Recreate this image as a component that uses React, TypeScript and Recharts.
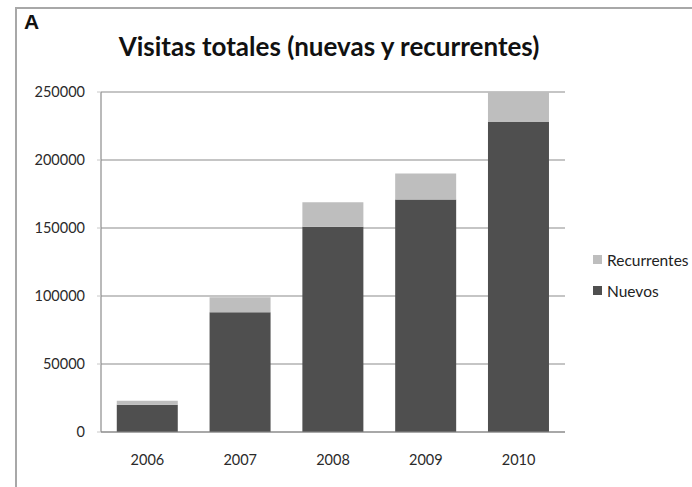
import React from 'react';
import { BarChart, Bar, XAxis, YAxis, CartesianGrid, Legend } from 'recharts';

const years = ['2006', '2007', '2008', '2009', '2010'];
const nuevos = [20000, 88000, 151000, 171000, 228000];
const recurrentes = [3000, 11000, 18000, 19000, 22000];
const yTicks = [0, 50000, 100000, 150000, 200000, 250000];

const data = years.map((year, i) => ({ year, Nuevos: nuevos[i], Recurrentes: recurrentes[i] }));

const DARK = '#4f4f4f';
const LIGHT = '#bebebe';
const GRID = '#8c8c8c';
const FONT = 'Lato, "Open Sans", sans-serif';

const legendItems = [
  { name: 'Recurrentes', color: LIGHT },
  { name: 'Nuevos', color: DARK },
];

const LegendContent = () => (
  <div style={{ fontFamily: FONT, fontSize: 15.5, color: '#222' }}>
    {legendItems.map((it) => (
      <div key={it.name} style={{ display: 'flex', alignItems: 'center', height: 31, whiteSpace: 'nowrap' }}>
        <span style={{ width: 9, height: 9, background: it.color, display: 'inline-block', marginRight: 5 }} />
        <span>{it.name}</span>
      </div>
    ))}
  </div>
);

export default function App() {
  return (
    <div style={{ position: 'relative', width: 692, height: 487, overflow: 'hidden', background: '#fff' }}>
      <style>{`body{margin:0;}`}</style>
      <div
        style={{
          position: 'absolute',
          left: 15,
          top: 7,
          width: 720,
          height: 520,
          border: '2px solid #a8a8a8',
          boxSizing: 'border-box',
        }}
      />
      <div
        style={{
          position: 'absolute',
          left: 24,
          top: 10,
          fontFamily: '"Liberation Sans", Arial, sans-serif',
          fontWeight: 'bold',
          fontSize: 21,
          color: '#111',
        }}
      >
        A
      </div>
      <div
        style={{
          position: 'absolute',
          left: 0,
          width: 658,
          top: 29,
          textAlign: 'center',
          fontFamily: FONT,
          fontWeight: 'bold',
          fontSize: 26,
          lineHeight: '34px',
          color: '#111',
        }}
      >
        Visitas totales (nuevas y recurrentes)
      </div>
      <div style={{ position: 'absolute', left: 0, top: 0 }}>
        <BarChart
          width={692}
          height={487}
          data={data}
          margin={{ top: 92, right: 127, bottom: 25, left: 0 }}
          barCategoryGap="17%"
        >
          <CartesianGrid horizontal vertical={false} stroke={GRID} strokeWidth={1.2} />
          <XAxis
            dataKey="year"
            height={30}
            axisLine={{ stroke: GRID, strokeWidth: 1.2 }}
            tickLine={false}
            tickMargin={17}
            tick={{ fontFamily: FONT, fontSize: 14.5, fill: '#2a2a2a' }}
          />
          <YAxis
            width={101}
            domain={[0, 250000]}
            ticks={yTicks}
            interval={0}
            axisLine={{ stroke: GRID, strokeWidth: 1.2 }}
            tickLine={{ stroke: '#c8c8c8' }}
            tickSize={4}
            tickMargin={12}
            tick={{ fontFamily: FONT, fontSize: 14.5, fill: '#2a2a2a' }}
          />
          <Legend
            verticalAlign="middle"
            align="center"
            layout="horizontal"
            wrapperStyle={{ left: 593, top: 244, width: 120 }}
            content={LegendContent}
          />
          <Bar dataKey="Nuevos" stackId="a" fill={DARK} isAnimationActive={false} />
          <Bar dataKey="Recurrentes" stackId="a" fill={LIGHT} isAnimationActive={false} />
        </BarChart>
      </div>
    </div>
  );
}
